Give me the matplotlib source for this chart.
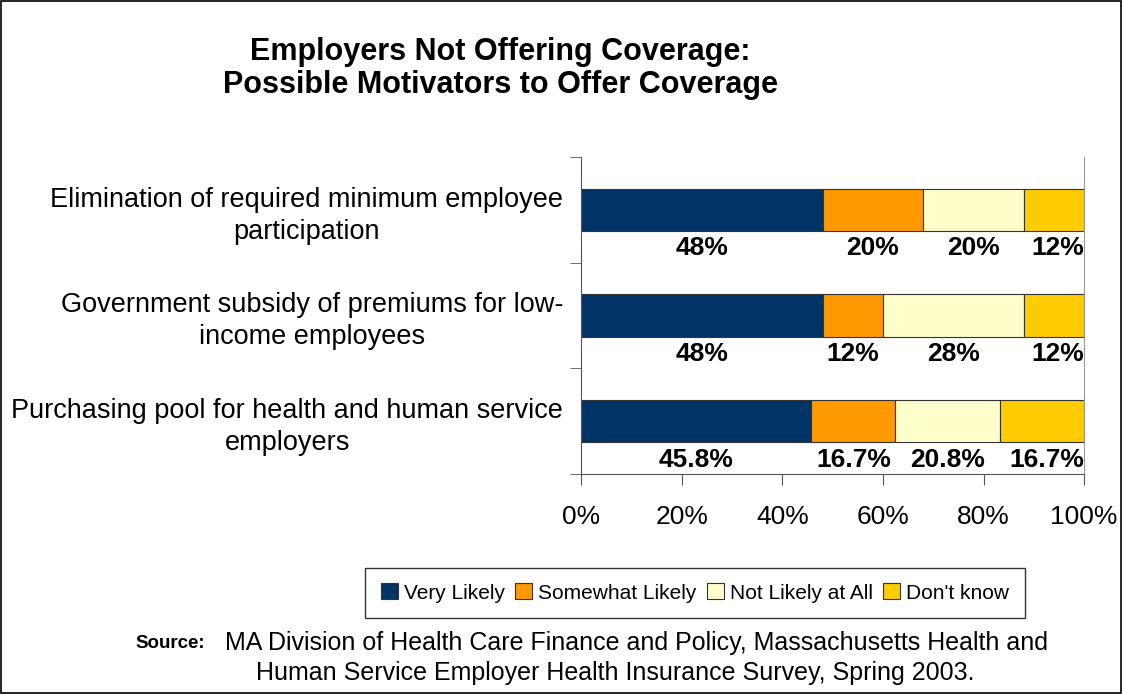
import matplotlib.pyplot as plt
import numpy as np
from matplotlib.patches import Rectangle

categories = [
    "Elimination of required minimum employee\nparticipation",
    "Government subsidy of premiums for low-\nincome employees",
    "Purchasing pool for health and human service\nemployers",
]
series_names = ["Very Likely", "Somewhat Likely", "Not Likely at All", "Don't know"]
very_likely = [48, 48, 45.8]
somewhat_likely = [20, 12, 16.7]
not_likely = [20, 28, 20.8]
dont_know = [12, 12, 16.7]
value_labels = [
    ["48%", "48%", "45.8%"],
    ["20%", "12%", "16.7%"],
    ["20%", "28%", "20.8%"],
    ["12%", "12%", "16.7%"],
]
colors = ["#003366", "#FF9900", "#FFFFCC", "#FFCC00"]

plt.rcParams["font.family"] = ["Liberation Sans", "DejaVu Sans"]

fig = plt.figure(figsize=(11.24, 6.94), dpi=100)
ax = fig.add_axes([0.517, 0.317, 0.4475, 0.457])

series = [very_likely, somewhat_likely, not_likely, dont_know]
y = np.arange(len(categories))
left = np.zeros(len(categories))
for i, (name, vals, col, labs) in enumerate(zip(series_names, series, colors, value_labels)):
    vals = np.array(vals)
    ax.barh(y, vals, left=left, height=0.4, color=col, edgecolor="#333333",
            linewidth=0.8, label=name)
    for yi, l0, v, lab in zip(y, left, vals, labs):
        # last segment label sits flush with the right end
        if i == len(series) - 1:
            xc, ha = 100, "right"
        else:
            xc, ha = l0 + v / 2, "center"
        ax.text(xc, yi + 0.25, lab, ha=ha, va="top", fontsize=19,
                fontweight="bold")
    left = left + vals

ax.set_xlim(0, 100)
ax.set_ylim(2.5, -0.5)
ax.set_xticks(np.arange(0, 101, 20))
ax.set_xticklabels([f"{v}%" for v in range(0, 101, 20)], fontsize=19)
ax.set_yticks(y)
ax.set_yticklabels(categories, fontsize=19.5, multialignment="center",
                   linespacing=1.3)
ax.set_yticks([-0.5, 0.5, 1.5, 2.5], minor=True)
ax.tick_params(axis="y", which="major", length=0, pad=13)
ax.tick_params(axis="y", which="minor", length=8, color="#555555")
ax.tick_params(axis="x", length=8, color="#555555", pad=14)
ax.spines["top"].set_visible(False)
ax.spines["right"].set_color("#999999")
ax.spines["left"].set_color("#555555")
ax.spines["bottom"].set_color("#555555")

fig.text(0.445, 1 - 37 / 694, "Employers Not Offering Coverage:\nPossible Motivators to Offer Coverage",
         ha="center", va="top", fontsize=22, fontweight="bold", linespacing=1.12)

leg = fig.legend(loc="center", ncol=4, frameon=True, fontsize=15,
                 handlelength=0.8, handleheight=0.8, handletextpad=0.3,
                 columnspacing=0.5, borderpad=0.75, borderaxespad=0)
leg.set_bbox_to_anchor((695 / 1124, 1 - 593 / 694), transform=fig.transFigure)
leg.get_frame().set_edgecolor("black")
leg.get_frame().set_linewidth(1.0)
leg.get_frame().set_boxstyle("square", pad=0)

clip = Rectangle((0, 0), 1070 / 1124, 1, transform=fig.transFigure, visible=False)
fig.add_artist(clip)
fig.text(135 / 1124, 1 - 643 / 694, "Source:", fontsize=13.5, fontweight="bold",
         va="center", ha="left")
t2 = fig.text(225 / 1124, 1 - 643 / 694,
              "MA Division of Health Care Finance and Policy, Massachusetts Health and",
              fontsize=18, va="center", ha="left")
t2.set_clip_path(clip)
fig.text(615 / 1124, 1 - 673 / 694,
         "Human Service Employer Health Insurance Survey, Spring 2003.",
         fontsize=18, va="center", ha="center")

fig.add_artist(Rectangle((0.001, 0.002), 0.996, 0.996, transform=fig.transFigure,
                         fill=False, edgecolor="black", linewidth=1.2))

fig.savefig("out.png", dpi=100)
